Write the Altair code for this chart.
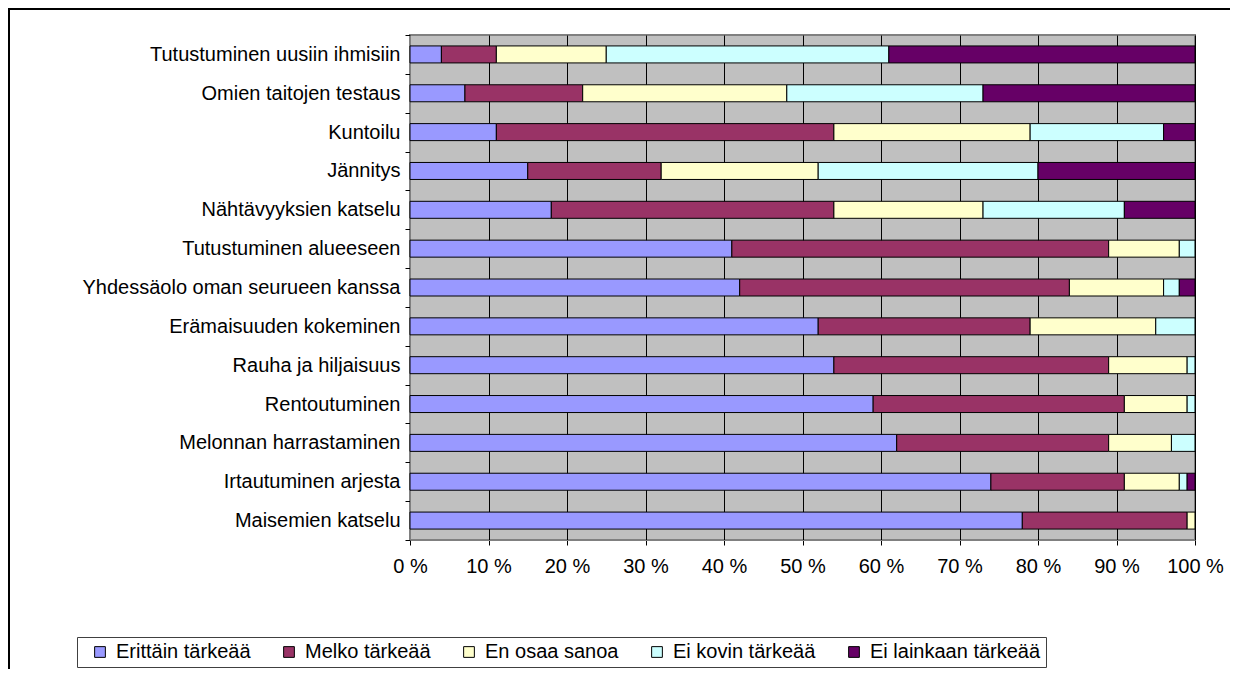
import altair as alt
import pandas as pd

categories = [
    "Tutustuminen uusiin ihmisiin",
    "Omien taitojen testaus",
    "Kuntoilu",
    "Jännitys",
    "Nähtävyyksien katselu",
    "Tutustuminen alueeseen",
    "Yhdessäolo oman seurueen kanssa",
    "Erämaisuuden kokeminen",
    "Rauha ja hiljaisuus",
    "Rentoutuminen",
    "Melonnan harrastaminen",
    "Irtautuminen arjesta",
    "Maisemien katselu",
]
series = ["Erittäin tärkeää", "Melko tärkeää", "En osaa sanoa", "Ei kovin tärkeää", "Ei lainkaan tärkeää"]
erittain = [4, 7, 11, 15, 18, 41, 42, 52, 54, 59, 62, 74, 78]
melko = [7, 15, 43, 17, 36, 48, 42, 27, 35, 32, 27, 17, 21]
en_osaa = [14, 26, 25, 20, 19, 9, 12, 16, 10, 8, 8, 7, 1]
ei_kovin = [36, 25, 17, 28, 18, 2, 2, 5, 1, 1, 3, 1, 0]
ei_lainkaan = [39, 27, 4, 20, 9, 0, 2, 0, 0, 0, 0, 1, 0]
colors = ["#9999FF", "#993366", "#FFFFCC", "#CCFFFF", "#660066"]
tick_values = [0, 10, 20, 30, 40, 50, 60, 70, 80, 90, 100]

rows = []
for si, (name, vals) in enumerate(zip(series, [erittain, melko, en_osaa, ei_kovin, ei_lainkaan])):
    for cat, v in zip(categories, vals):
        if v > 0:
            rows.append({"category": cat, "series": name, "value": v, "order": si})
df = pd.DataFrame(rows)

FONT = "Liberation Sans"
FS = 20

bars = alt.Chart(df).mark_bar(size=17, stroke="black", strokeWidth=1).encode(
    y=alt.Y(
        "category:N",
        sort=categories,
        title=None,
        scale=alt.Scale(paddingInner=0, paddingOuter=0),
        axis=alt.Axis(
            labelFont=FONT, labelFontSize=FS, labelColor="black", labelPadding=5,
            tickBand="extent", tickSize=5, tickColor="black", domainColor="#808080",
            domainWidth=1, labelLimit=0, grid=False,
        ),
    ),
    x=alt.X(
        "value:Q",
        stack="zero",
        title=None,
        scale=alt.Scale(domain=[0, 100], nice=False),
        axis=alt.Axis(
            values=tick_values, labelExpr="datum.value + ' %'", grid=True,
            gridColor="black", gridWidth=1, gridOpacity=1, tickSize=5, tickColor="black",
            domainColor="#808080", labelFont=FONT, labelFontSize=FS, labelColor="black",
            labelPadding=11, labelFlush=False,
        ),
    ),
    color=alt.Color(
        "series:N",
        scale=alt.Scale(domain=series, range=colors),
        legend=alt.Legend(
            title=None, orient="none", legendX=-333, legendY=602, direction="horizontal",
            symbolType="square", symbolSize=115, symbolStrokeColor="black", symbolStrokeWidth=1,
            labelFont=FONT, labelFontSize=FS, labelColor="black", labelOffset=6,
            columnPadding=20, padding=5, strokeColor="#404040", fillColor="white", labelLimit=0,
            symbolOffset=8,
        ),
    ),
    order=alt.Order("order:Q", sort="ascending"),
)

frame = alt.Chart(pd.DataFrame({"a": [0]})).mark_rect(
    fillOpacity=0, stroke="black", strokeWidth=2, clip=False
).encode(x=alt.value(-401), x2=alt.value(900), y=alt.value(-26), y2=alt.value(700))

chart = alt.layer(frame, bars).properties(
    width=785,
    height=505,
    autosize=alt.AutoSizeParams(type="none"),
    padding={"left": 402, "top": 27, "right": 35, "bottom": 129},
    background="white",
).configure_view(fill="#C0C0C0", stroke="#808080", strokeWidth=2)

chart.save("out.html", embed_options={"renderer": "svg", "actions": False})
